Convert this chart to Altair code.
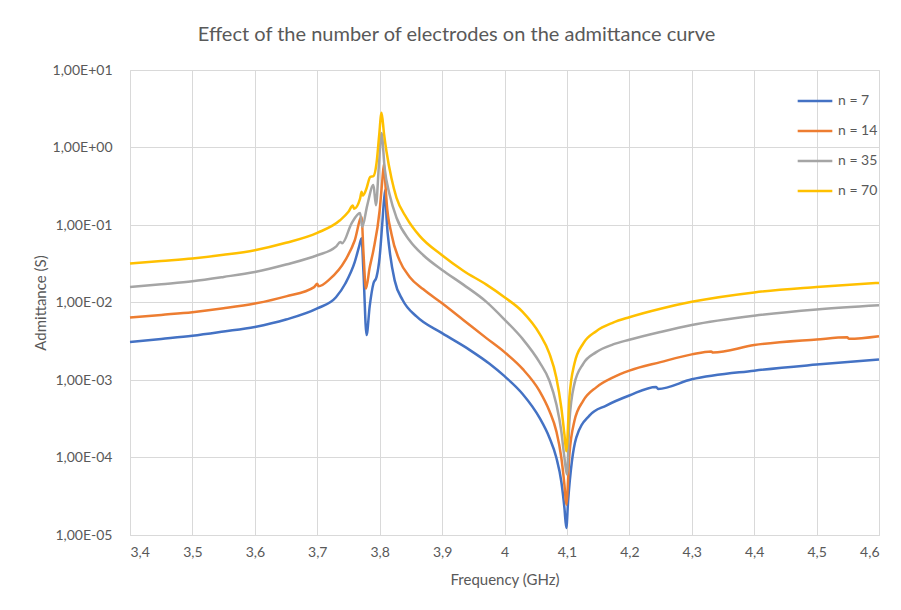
import altair as alt
import pandas as pd

series_names = ["n = 7", "n = 14", "n = 35", "n = 70"]
series_colors = ["#4472C4", "#ED7D31", "#A5A5A5", "#FFC000"]

# n = 7
freq_n7 = [3.40, 3.45, 3.50, 3.55, 3.60, 3.65, 3.70, 3.73, 3.745, 3.76, 3.767, 3.771, 3.774, 3.779,
           3.784, 3.79, 3.795, 3.80, 3.804, 3.807, 3.809, 3.811, 3.816, 3.824, 3.837, 3.859, 3.90,
           3.944, 3.976, 4.00, 4.029, 4.056, 4.072, 4.083, 4.091, 4.096, 4.099, 4.102, 4.108, 4.115,
           4.136, 4.163, 4.20, 4.243, 4.246, 4.30, 4.40, 4.50, 4.60]
adm_n7 = [3.10e-3, 3.39e-3, 3.72e-3, 4.22e-3, 4.84e-3, 6.03e-3, 8.38e-3, 1.17e-2, 1.76e-2, 3.31e-2,
          5.25e-2, 6.76e-2, 2.51e-2, 3.80e-3, 8.91e-3, 1.76e-2, 2.14e-2, 3.89e-2, 1.00e-1, 2.09e-1,
          2.82e-1, 1.24e-1, 4.68e-2, 1.93e-2, 1.07e-2, 6.61e-3, 4.02e-3, 2.45e-3, 1.62e-3, 1.12e-3,
          6.61e-4, 3.27e-4, 1.80e-4, 1.00e-4, 4.90e-5, 2.24e-5, 1.23e-5, 2.82e-5, 8.91e-5, 1.80e-4,
          3.47e-4, 4.68e-4, 6.31e-4, 8.13e-4, 7.67e-4, 1.02e-3, 1.32e-3, 1.58e-3, 1.84e-3]

# n = 14
freq_n14 = [3.40, 3.45, 3.50, 3.55, 3.60, 3.65, 3.695, 3.70, 3.702, 3.72, 3.745, 3.76, 3.771, 3.774,
            3.778, 3.784, 3.79, 3.80, 3.804, 3.807, 3.809, 3.811, 3.819, 3.832, 3.848, 3.87, 3.90,
            3.934, 3.971, 4.00, 4.029, 4.056, 4.072, 4.083, 4.091, 4.096, 4.099, 4.104, 4.112, 4.126,
            4.147, 4.174, 4.20, 4.25, 4.30, 4.331, 4.334, 4.40, 4.50, 4.549, 4.552, 4.60]
adm_n14 = [6.40e-3, 6.92e-3, 7.50e-3, 8.41e-3, 9.70e-3, 1.20e-2, 1.58e-2, 1.74e-2, 1.62e-2, 2.00e-2,
           3.52e-2, 6.31e-2, 1.27e-1, 4.47e-2, 1.51e-2, 2.82e-2, 4.73e-2, 1.55e-1, 3.55e-1, 6.22e-1,
           3.55e-1, 2.04e-1, 7.59e-2, 3.47e-2, 2.14e-2, 1.48e-2, 9.77e-3, 5.96e-3, 3.47e-3, 2.29e-3,
           1.39e-3, 7.24e-4, 3.98e-4, 2.19e-4, 1.00e-4, 4.47e-5, 2.45e-5, 1.10e-4, 2.95e-4, 5.37e-4,
           8.04e-4, 1.08e-3, 1.32e-3, 1.70e-3, 2.14e-3, 2.34e-3, 2.26e-3, 2.82e-3, 3.33e-3, 3.55e-3,
           3.40e-3, 3.67e-3]

# n = 35
freq_n35 = [3.40, 3.45, 3.50, 3.55, 3.60, 3.65, 3.70, 3.73, 3.737, 3.74, 3.755, 3.7686, 3.772, 3.78,
            3.79, 3.794, 3.799, 3.803, 3.808, 3.816, 3.827, 3.848, 3.87, 3.90, 3.934, 3.971, 4.00,
            4.029, 4.056, 4.072, 4.083, 4.091, 4.096, 4.100, 4.104, 4.112, 4.126, 4.147, 4.174, 4.20,
            4.25, 4.30, 4.40, 4.50, 4.60]
adm_n35 = [1.58e-2, 1.72e-2, 1.88e-2, 2.14e-2, 2.48e-2, 3.09e-2, 4.07e-2, 5.25e-2, 6.03e-2, 5.82e-2,
           1.05e-1, 1.43e-1, 9.46e-2, 1.78e-1, 3.27e-1, 1.80e-1, 6.31e-1, 1.54e0, 5.37e-1, 2.45e-1,
           1.24e-1, 6.31e-2, 4.07e-2, 2.63e-2, 1.70e-2, 1.02e-2, 6.03e-3, 3.39e-3, 1.70e-3, 9.77e-4,
           4.90e-4, 2.19e-4, 1.00e-4, 6.03e-5, 2.95e-4, 8.91e-4, 1.62e-3, 2.29e-3, 2.88e-3, 3.31e-3,
           4.17e-3, 5.13e-3, 6.76e-3, 8.13e-3, 9.23e-3]

# n = 70
freq_n70 = [3.40, 3.45, 3.50, 3.55, 3.60, 3.65, 3.70, 3.7365, 3.75, 3.757, 3.759, 3.7686, 3.771, 3.773,
            3.778, 3.785, 3.79, 3.795, 3.799, 3.803, 3.807, 3.811, 3.819, 3.827, 3.843, 3.864, 3.90,
            3.934, 3.971, 4.00, 4.029, 4.056, 4.072, 4.083, 4.091, 4.096, 4.099, 4.104, 4.112, 4.126,
            4.147, 4.174, 4.20, 4.25, 4.30, 4.40, 4.50, 4.60]
adm_n70 = [3.18e-2, 3.43e-2, 3.70e-2, 4.12e-2, 4.73e-2, 5.89e-2, 7.91e-2, 1.15e-1, 1.48e-1, 1.78e-1,
           1.62e-1, 2.19e-1, 2.69e-1, 2.40e-1, 2.82e-1, 4.17e-1, 4.27e-1, 6.31e-1, 1.38e0, 2.80e0,
           1.50e0, 8.81e-1, 3.98e-1, 2.24e-1, 1.24e-1, 7.24e-2, 4.07e-2, 2.57e-2, 1.70e-2, 1.17e-2,
           7.59e-3, 3.98e-3, 2.19e-3, 1.08e-3, 4.42e-4, 2.00e-4, 1.20e-4, 5.96e-4, 1.62e-3, 2.95e-3,
           4.27e-3, 5.50e-3, 6.46e-3, 8.32e-3, 1.02e-2, 1.35e-2, 1.58e-2, 1.79e-2]

x_ticks = [3.4, 3.5, 3.6, 3.7, 3.8, 3.9, 4.0, 4.1, 4.2, 4.3, 4.4, 4.5, 4.6]
y_ticks = [1e-5, 1e-4, 1e-3, 1e-2, 1e-1, 1e0, 1e1]

rows = []
for name, xs, ys in zip(series_names,
                        [freq_n7, freq_n14, freq_n35, freq_n70],
                        [adm_n7, adm_n14, adm_n35, adm_n70]):
    for i, (fx, ay) in enumerate(zip(xs, ys)):
        rows.append({"Frequency": fx, "Admittance": ay, "Series": name, "idx": i})
df = pd.DataFrame(rows)

FONT = "Lato"
TXT = "#595959"
GRID = "#D9D9D9"

chart = alt.Chart(df).mark_line(strokeWidth=2.5, interpolate="monotone").encode(
    x=alt.X("Frequency:Q",
            scale=alt.Scale(domain=[3.4, 4.6], nice=False, zero=False),
            axis=alt.Axis(values=x_ticks, title="Frequency (GHz)",
                          labelExpr="replace(format(datum.value, '.1~f'), '.', ',')",
                          grid=True, gridColor=GRID, domainColor=GRID, ticks=False,
                          labelPadding=10, titlePadding=13, labelFontSize=14,
                          titleFontSize=15, labelColor=TXT, titleColor=TXT,
                          labelFont=FONT, titleFont=FONT, titleFontWeight="normal")),
    y=alt.Y("Admittance:Q",
            scale=alt.Scale(type="log", domain=[1e-5, 10], nice=False),
            axis=alt.Axis(values=y_ticks, title="Admittance (S)",
                          labelExpr="'1,00E' + (datum.value >= 1 ? '+' : '-') + '0' + abs(round(log(datum.value) / LN10))",
                          grid=True, gridColor=GRID, domain=False, ticks=False,
                          labelPadding=18, titlePadding=4, labelFontSize=14,
                          titleFontSize=15, labelColor=TXT, titleColor=TXT,
                          labelFont=FONT, titleFont=FONT, titleFontWeight="normal")),
    color=alt.Color("Series:N",
                    scale=alt.Scale(domain=series_names, range=series_colors),
                    legend=alt.Legend(title=None, orient="none", legendX=666, legendY=12,
                                      symbolType="stroke", symbolStrokeWidth=2.5,
                                      symbolSize=1200, labelFontSize=14, labelColor=TXT,
                                      labelFont=FONT, rowPadding=4, labelOffset=4)),
    order=alt.Order("idx:Q"),
).properties(
    width=749,
    height=465,
    title=alt.TitleParams("Effect of the number of electrodes on the admittance curve",
                          fontSize=20, font=FONT, color=TXT, fontWeight="normal",
                          anchor="middle", dx=-48, offset=18),
    autosize=alt.AutoSizeParams(type="none"),
    padding={"left": 130, "top": 70, "right": 22, "bottom": 75},
).configure_view(stroke="transparent").configure(background="white")

chart.save("out.html", embed_options={"renderer": "svg", "actions": False})
